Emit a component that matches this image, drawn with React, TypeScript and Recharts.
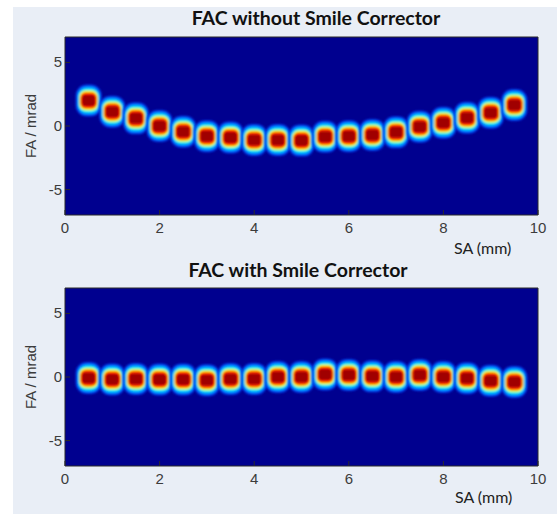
import {
  ReferenceArea,
  Scatter,
  ScatterChart,
  XAxis,
  YAxis,
} from "recharts";

const saPositions = [0.5, 1, 1.5, 2, 2.5, 3, 3.5, 4, 4.5, 5, 5.5, 6, 6.5, 7, 7.5, 8, 8.5, 9, 9.5];
const faWithout = [2.0, 1.13, 0.6, 0.0, -0.45, -0.8, -0.9, -1.1, -1.1, -1.15, -0.85, -0.8, -0.7, -0.5, -0.05, 0.25, 0.65, 1.05, 1.65];
const faWith = [-0.08, -0.2, -0.15, -0.2, -0.2, -0.25, -0.15, -0.15, 0, 0, 0.2, 0.15, 0.05, 0, 0.15, 0, -0.1, -0.3, -0.4];
const xTicks = [0, 2, 4, 6, 8, 10];
const yTicks = [-5, 0, 5];

const NAVY = "#00008f";
const FRAME = "#2a2a2a";
const TEXT = "#3c3c3c";
const AXIS_FONT = "'Liberation Sans', Arial, sans-serif";
const TITLE_FONT = "Lato, 'Open Sans', sans-serif";

// jet-like rings, outer to inner: [width, height, rx, colour]
const rings: [number, number, number, string][] = [
  [26, 32, 11, "#0030e0"],
  [24, 30, 10, "#0060ff"],
  [22, 27, 9, "#00a0ff"],
  [20, 24, 8, "#00e8ff"],
  [19, 21, 7, "#80ff80"],
  [18, 19, 6, "#ffff00"],
  [17, 17, 6, "#ff9000"],
  [16, 15, 5, "#ff2000"],
  [13, 11, 3, "#a00000"],
];

function Spot(props: any) {
  const { cx, cy } = props;
  if (cx == null || cy == null) return <g />;
  return (
    <g>
      <defs>
        <filter id="spotBlur" x="-50%" y="-50%" width="200%" height="200%">
          <feGaussianBlur stdDeviation="1.2" />
        </filter>
      </defs>
      <g filter="url(#spotBlur)">
        {rings.map(([w, h, r, c], i) => (
          <rect key={i} x={cx - w / 2} y={cy - h / 2} width={w} height={h} rx={r} ry={r} fill={c} />
        ))}
      </g>
    </g>
  );
}

function BottomTick(props: any) {
  const { x, y, payload } = props;
  return (
    <g>
      <line x1={x} y1={y} x2={x} y2={y - 5} stroke={FRAME} />
      <text x={x} y={y + 18} textAnchor="middle" fill={TEXT} fontSize={15} fontFamily={AXIS_FONT}>
        {payload.value}
      </text>
    </g>
  );
}

function TopTick(props: any) {
  const { x, y } = props;
  return <line x1={x} y1={y} x2={x} y2={y + 5} stroke={FRAME} />;
}

function LeftTick(props: any) {
  const { x, y, payload } = props;
  return (
    <g>
      <line x1={x} y1={y} x2={x + 5} y2={y} stroke={FRAME} />
      <text x={x - 3} y={y + 5} textAnchor="end" fill={TEXT} fontSize={15} fontFamily={AXIS_FONT}>
        {payload.value}
      </text>
    </g>
  );
}

function RightTick(props: any) {
  const { x, y } = props;
  return <line x1={x} y1={y} x2={x - 5} y2={y} stroke={FRAME} />;
}

function Panel({ values, top, bottom }: { values: number[]; top: number; bottom: number }) {
  const data = saPositions.map((x, i) => ({ x, y: values[i] }));
  return (
    <ScatterChart width={557} height={257} margin={{ top, right: 18, bottom, left: 25 }}>
      <XAxis
        xAxisId="b"
        dataKey="x"
        type="number"
        domain={[0, 10]}
        ticks={xTicks}
        height={30}
        tickSize={0}
        tickMargin={0}
        tickLine={false}
        axisLine={{ stroke: FRAME }}
        tick={<BottomTick />}
        interval={0}
      />
      <XAxis
        xAxisId="t"
        orientation="top"
        type="number"
        domain={[0, 10]}
        ticks={xTicks}
        height={1}
        tickSize={0}
        tickMargin={0}
        tickLine={false}
        axisLine={{ stroke: FRAME }}
        tick={<TopTick />}
        interval={0}
      />
      <YAxis
        yAxisId="l"
        dataKey="y"
        type="number"
        domain={[-7, 7]}
        ticks={yTicks}
        width={40}
        tickSize={0}
        tickMargin={0}
        tickLine={false}
        axisLine={{ stroke: FRAME }}
        tick={<LeftTick />}
        interval={0}
      />
      <YAxis
        yAxisId="r"
        orientation="right"
        type="number"
        domain={[-7, 7]}
        ticks={yTicks}
        width={1}
        tickSize={0}
        tickMargin={0}
        tickLine={false}
        axisLine={{ stroke: FRAME }}
        tick={<RightTick />}
        interval={0}
      />
      <ReferenceArea
        xAxisId="b"
        yAxisId="l"
        x1={0}
        x2={10}
        y1={-7}
        y2={7}
        fill={NAVY}
        fillOpacity={1}
        stroke="none"
      />
      <Scatter
        xAxisId="b"
        yAxisId="l"
        data={data}
        shape={<Spot />}
        isAnimationActive={false}
      />
    </ScatterChart>
  );
}

const labelStyle: React.CSSProperties = {
  position: "absolute",
  whiteSpace: "nowrap",
};

export default function App() {
  return (
    <div
      style={{
        position: "absolute",
        left: 0,
        top: 0,
        width: 557,
        height: 514,
        background: "#ffffff",
        overflow: "hidden",
      }}
    >
      <div
        style={{
          position: "absolute",
          left: 13,
          top: 7,
          right: 0,
          bottom: 0,
          background: "#e9eef6",
        }}
      />
      <div style={{ position: "absolute", left: 0, top: 0 }}>
        <Panel values={faWithout} top={36} bottom={12} />
      </div>
      <div style={{ position: "absolute", left: 0, top: 257 }}>
        <Panel values={faWith} top={30} bottom={18} />
      </div>

      <div style={{ ...labelStyle, left: 0, width: 632, top: 6, textAlign: "center", fontFamily: TITLE_FONT, fontWeight: 700, fontSize: 19.5, color: "#111" }}>
        FAC without Smile Corrector
      </div>
      <div style={{ ...labelStyle, left: 0, width: 596, top: 258, textAlign: "center", fontFamily: TITLE_FONT, fontWeight: 700, fontSize: 19.5, color: "#111" }}>
        FAC with Smile Corrector
      </div>

      <div style={{ ...labelStyle, left: 454, top: 238, fontFamily: TITLE_FONT, fontSize: 16, color: "#222" }}>SA (mm)</div>
      <div style={{ ...labelStyle, left: 455, top: 487, fontFamily: TITLE_FONT, fontSize: 16, color: "#222" }}>SA (mm)</div>

      <div style={{ ...labelStyle, left: 30, top: 126, transform: "translate(-50%, -50%) rotate(-90deg)", fontFamily: AXIS_FONT, fontSize: 15, color: TEXT }}>
        FA / mrad
      </div>
      <div style={{ ...labelStyle, left: 30, top: 377, transform: "translate(-50%, -50%) rotate(-90deg)", fontFamily: AXIS_FONT, fontSize: 15, color: TEXT }}>
        FA / mrad
      </div>
    </div>
  );
}
